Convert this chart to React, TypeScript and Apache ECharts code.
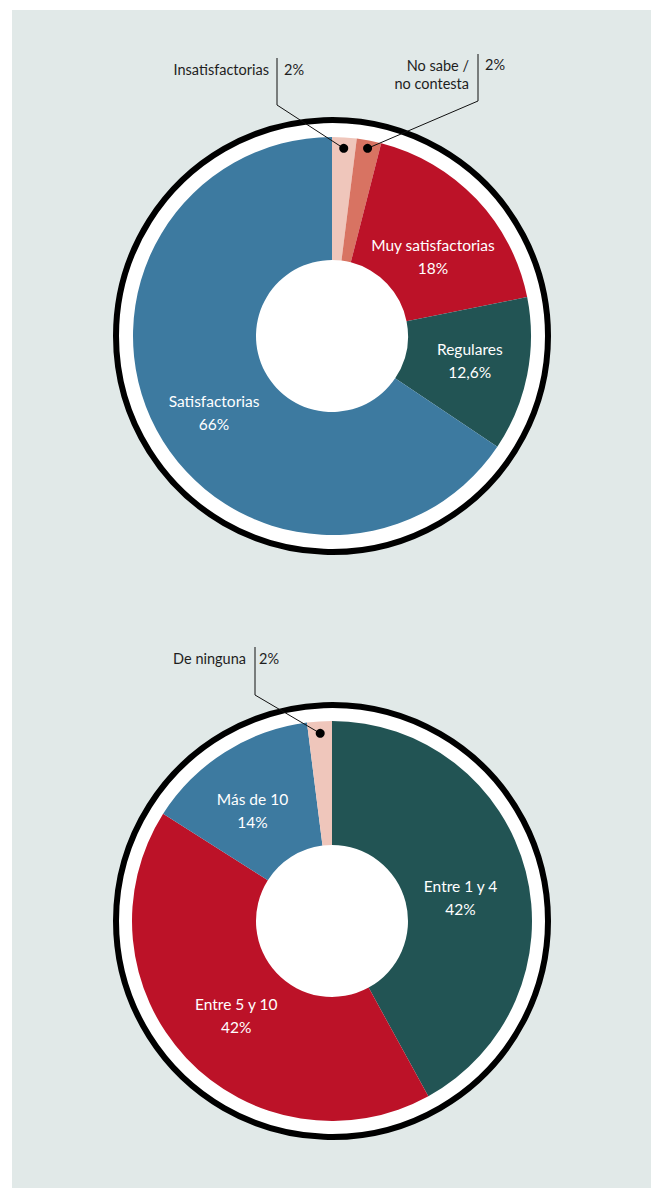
import React, { useEffect, useRef } from "react";
import * as echarts from "echarts";

const chart1Names = ["Insatisfactorias", "No sabe /\nno contesta", "Muy satisfactorias", "Regulares", "Satisfactorias"];
const chart1Values = [2, 2, 18, 12.6, 66];
const chart1Pct = ["2%", "2%", "18%", "12,6%", "66%"];
const chart1Colors = ["#efc6bb", "#d87362", "#bc1228", "#225454", "#3d7aa0"];

const chart2Names = ["Entre 1 y 4", "Entre 5 y 10", "Más de 10", "De ninguna"];
const chart2Values = [42, 42, 14, 2];
const chart2Pct = ["42%", "42%", "14%", "2%"];
const chart2Colors = ["#225454", "#bc1228", "#3d7aa0", "#efc6bb"];

const FONT = "Lato, 'Noto Sans', sans-serif";

export default function App() {
  const ref = useRef<HTMLDivElement>(null);
  useEffect(() => {
    if (!ref.current) return;
    const chart = echarts.init(ref.current, null, { renderer: "svg" });
    const c1 = [332, 336];
    const c2 = [332, 921];

    const dotPos = (vals: number[], idx: number, c: number[], r: number) => {
      const total = vals.reduce((a, b) => a + b, 0);
      let cum = 0;
      for (let i = 0; i < idx; i++) cum += vals[i];
      const ang = ((cum + vals[idx] / 2) / total) * 2 * Math.PI;
      return [c[0] + r * Math.sin(ang), c[1] - r * Math.cos(ang)];
    };

    const d10 = dotPos(chart1Values, 0, c1, 188);
    const d11 = dotPos(chart1Values, 1, c1, 191);
    const d23 = dotPos(chart2Values, 3, c2, 188);

    const black = (t: string, x: number, y: number, align: string, extra: any = {}) => ({
      type: "text",
      z: 20,
      style: {
        text: t, x, y, align, verticalAlign: "middle",
        fill: "#1e1e1e", font: `14.5px ${FONT}`, lineHeight: 18, ...extra,
      },
    });
    const line = (pts: number[][]) => ({
      type: "polyline", z: 20,
      shape: { points: pts },
      style: { stroke: "#111", lineWidth: 1, fill: "none" },
    });
    const dot = (p: number[]) => ({
      type: "circle", z: 21,
      shape: { cx: p[0], cy: p[1], r: 4.5 },
      style: { fill: "#000" },
    });
    const ring = (c: number[]) => ({
      type: "circle", z: 1,
      shape: { cx: c[0], cy: c[1], r: 216 },
      style: { fill: "#fff", stroke: "#000", lineWidth: 6 },
    });

    const offsets1 = [[0, 0], [0, 0], [-1, 17], [0, -3], [6, 10]];
    const offsets2 = [[-8, 12], [7, -2], [-4, 9], [0, 0]];

    const pie = (c: number[], r: number, names: string[], vals: number[], pct: string[], cols: string[], hide: number[], offs: number[][]) => ({
      type: "pie",
      center: c,
      radius: [76, r],
      startAngle: 90,
      clockwise: true,
      silent: true,
      z: 5,
      avoidLabelOverlap: false,
      label: {
        show: true,
        position: "inside",
        color: "#fff",
        fontFamily: FONT,
        fontSize: 15.5,
        lineHeight: 23,
        formatter: (p: any) => `${names[p.dataIndex]}\n${pct[p.dataIndex]}`,
      },
      labelLine: { show: false },
      labelLayout: (p: any) => ({ dx: offs[p.dataIndex][0], dy: offs[p.dataIndex][1] }),
      itemStyle: { borderWidth: 0 },
      data: vals.map((v, i) => ({
        name: names[i],
        value: v,
        itemStyle: { color: cols[i] },
        label: hide.includes(i) ? { show: false } : undefined,
      })),
    });

    chart.setOption({
      animation: false,
      graphic: [
        { type: "rect", z: 0, shape: { x: 12, y: 10, width: 639, height: 1178 }, style: { fill: "#e1e9e8" } },
        ring(c1),
        ring(c2),
        black(chart1Names[0], 269, 69, "right"),
        black(chart1Pct[0], 284, 69, "left"),
        line([[277, 58], [277, 105], d10]),
        dot(d10),
        black(chart1Names[1], 469, 74, "right"),
        black(chart1Pct[1], 485, 64, "left"),
        line([[478, 54], [478, 101], d11]),
        dot(d11),
        black(chart2Names[3], 246, 658, "right"),
        black(chart2Pct[3], 259, 658, "left"),
        line([[255, 647], [255, 695], d23]),
        dot(d23),
      ],
      series: [
        pie(c1, 199, chart1Names, chart1Values, chart1Pct, chart1Colors, [0, 1], offsets1),
        pie(c2, 200, chart2Names, chart2Values, chart2Pct, chart2Colors, [3], offsets2),
      ],
    });
    return () => chart.dispose();
  }, []);
  return <div ref={ref} style={{ position: "absolute", left: 0, top: 0, width: 655, height: 1195 }} />;
}
